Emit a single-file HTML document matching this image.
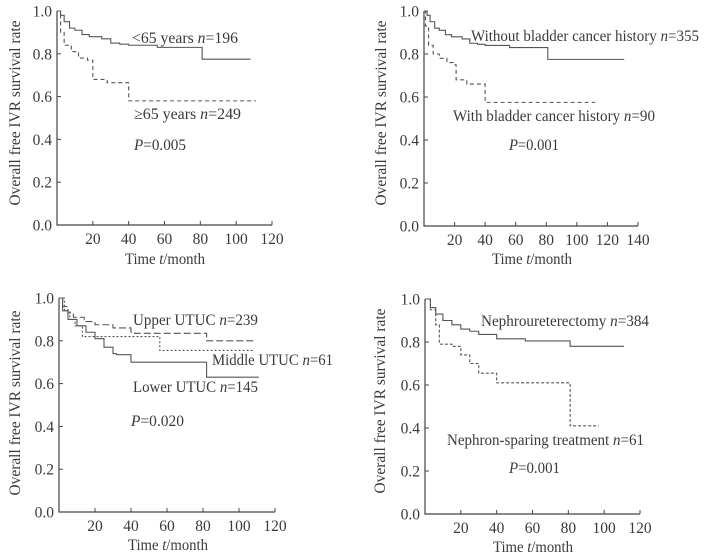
<!DOCTYPE html>
<html><head><meta charset="utf-8">
<style>
html,body{margin:0;padding:0;background:#fff;}
svg{display:block;}
text{font-family:"Liberation Serif",serif;fill:#3a3a3a;}
</style></head>
<body>
<svg id="chart" width="704" height="556" viewBox="0 0 704 556" xmlns="http://www.w3.org/2000/svg"></svg>
<script>
// Panel A data
const aYoungT=[0,2,4,7,10,14,18,25,30,35,40,56,81,108];
const aYoungS=[1,0.98,0.95,0.92,0.91,0.89,0.88,0.87,0.85,0.845,0.84,0.83,0.775,0.775];
const aOldT=[0,2,4,8,12,17,20,28,40,111];
const aOldS=[1,0.9,0.84,0.81,0.78,0.77,0.68,0.665,0.58,0.58];
// Panel B data
const bWithoutT=[0,2,4,7,10,14,18,25,30,35,40,56,81,131];
const bWithoutS=[1,0.98,0.95,0.92,0.91,0.89,0.88,0.87,0.85,0.845,0.84,0.83,0.775,0.775];
const bWithT=[0,1,3,6,10,15,19,21,28,40,112];
const bWithS=[1,0.93,0.84,0.8,0.78,0.76,0.75,0.68,0.66,0.575,0.575];
// Panel C data
const cUpperT=[0,2,5,8,14,20,30,40,42,82,108];
const cUpperS=[1,0.96,0.93,0.91,0.89,0.875,0.86,0.84,0.835,0.8,0.8];
const cMiddleT=[0,3,6,9,13,56,108];
const cMiddleS=[1,0.94,0.9,0.87,0.82,0.755,0.755];
const cLowerT=[0,2,5,10,15,20,25,30,32,40,82,111];
const cLowerS=[1,0.94,0.9,0.87,0.84,0.81,0.77,0.74,0.735,0.7,0.63,0.63];
// Panel D data
const dNephT=[0,3,6,10,15,20,25,30,40,56,81,111];
const dNephS=[1,0.96,0.93,0.9,0.88,0.86,0.85,0.835,0.815,0.805,0.78,0.78];
const dSparT=[0,3,6,8,15,20,25,30,40,81,97];
const dSparS=[1,0.95,0.88,0.79,0.78,0.74,0.7,0.655,0.61,0.41,0.41];
const yTicks=[0,0.2,0.4,0.6,0.8,1.0];
const yTickLabels=["0.0","0.2","0.4","0.6","0.8","1.0"];
const xTicks120=[20,40,60,80,100,120];
const xTicks140=[20,40,60,80,100,120,140];

const NS="http://www.w3.org/2000/svg";
const svg=document.getElementById('chart');
const FS=15.5;
function mk(tag,attrs,parent){const e=document.createElementNS(NS,tag);for(const k in attrs)e.setAttribute(k,attrs[k]);(parent||svg).appendChild(e);return e;}

function panel(p){
  const g=mk('g',{});
  
  
  const xs=v=>p.x0+(v/p.xmax)*(p.x1-p.x0);
  const ys=v=>p.y0-(v)*(p.y0-p.y1);
  const ax=mk('path',{d:`M${p.x0},${p.y1} V${p.y0} H${p.x1}`,stroke:'#444','stroke-width':1.2,fill:'none'},g);
  
  
  yTicks.forEach((v,i)=>{
    mk('line',{x1:p.x0,x2:p.x0+4,y1:ys(v),y2:ys(v),stroke:'#444'},g);
    const t=mk('text',{x:p.x0-5,y:ys(v)+5.5,'text-anchor':'end','font-size':FS},g);
    t.textContent=yTickLabels[i];
    
    
  });
  p.xt.forEach(v=>{
    mk('line',{x1:xs(v),x2:xs(v),y1:p.y0,y2:p.y0-4,stroke:'#444'},g);
    const t=mk('text',{x:xs(v),y:p.y0+19,'text-anchor':'middle','font-size':FS},g);
    t.textContent=String(v);
    
    
  });
  const xt=mk('text',{x:p.xtx,y:p.xty,'text-anchor':'middle','font-size':FS,textLength:80,lengthAdjust:'spacingAndGlyphs'},g);
  xt.innerHTML='Time <tspan font-style="italic">t</tspan>/month';
  
  
  const yt=mk('text',{x:0,y:0,'text-anchor':'middle','font-size':FS,textLength:185,lengthAdjust:'spacingAndGlyphs',transform:`translate(${p.ytx},${p.yty}) rotate(-90)`},g);
  yt.textContent='Overall free IVR survival rate';
  
  
  p.series.forEach(s=>{
    let d=`M${xs(s.t[0])},${ys(s.s[0])}`;
    for(let i=1;i<s.t.length;i++){d+=` H${xs(s.t[i])} V${ys(s.s[i])}`;}
    const l=mk('path',{d:d,fill:'none',stroke:'#555','stroke-width':1.1},g);
    if(s.dash)l.setAttribute('stroke-dasharray',s.dash);
    
    
  });
  p.labels.forEach(L=>{
    const t=mk('text',{x:L.x,y:L.y,'font-size':FS,textLength:L.w,lengthAdjust:'spacingAndGlyphs'},g);
    t.innerHTML=L.html;
    
    
  });
}
const n='<tspan font-style="italic">n</tspan>';
const P='<tspan font-style="italic">P</tspan>';
panel({name:'panel-age',x0:57,x1:272,y0:225,y1:11,xmax:120,xt:xTicks120,xtx:165,xty:264,ytx:20,yty:113,
  series:[{name:'line-under-65',t:aYoungT,s:aYoungS},{name:'line-over-65',t:aOldT,s:aOldS,dash:'4,3'}],
  labels:[{name:'label-under-65',x:132,y:43,w:106,html:'&lt;65 years '+n+'=196'},
          {name:'label-over-65',x:134,y:119,w:107,html:'≥65 years '+n+'=249'},
          {name:'p-value',x:134,y:150,w:52,html:P+'=0.005'}]});
panel({name:'panel-bladder',x0:424,x1:638,y0:226,y1:11,xmax:140,xt:xTicks140,xtx:532,xty:264,ytx:386,yty:113,
  series:[{name:'line-without-history',t:bWithoutT,s:bWithoutS},{name:'line-with-history',t:bWithT,s:bWithS,dash:'4,3'}],
  labels:[{name:'label-without-history',x:471,y:41,w:228,html:'Without bladder cancer history '+n+'=355'},
          {name:'label-with-history',x:453,y:121,w:202,html:'With bladder cancer history '+n+'=90'},
          {name:'p-value',x:509,y:150,w:50,html:P+'=0.001'}]});
panel({name:'panel-location',x0:59,x1:275,y0:512,y1:298,xmax:120,xt:xTicks120,xtx:168,xty:550,ytx:20,yty:403,
  series:[{name:'line-upper',t:cUpperT,s:cUpperS,dash:'7,3'},{name:'line-middle',t:cMiddleT,s:cMiddleS,dash:'2,2'},{name:'line-lower',t:cLowerT,s:cLowerS}],
  labels:[{name:'label-upper',x:133,y:325,w:125,html:'Upper UTUC '+n+'=239'},
          {name:'label-middle',x:212,y:365,w:121,html:'Middle UTUC '+n+'=61'},
          {name:'label-lower',x:133,y:392,w:125,html:'Lower UTUC '+n+'=145'},
          {name:'p-value',x:131,y:426,w:53,html:P+'=0.020'}]});
panel({name:'panel-treatment',x0:425,x1:640,y0:514,y1:299,xmax:120,xt:xTicks120,xtx:533,xty:552,ytx:385,yty:401,
  series:[{name:'line-nephroureterectomy',t:dNephT,s:dNephS},{name:'line-nephron-sparing',t:dSparT,s:dSparS,dash:'3,2'}],
  labels:[{name:'label-nephroureterectomy',x:481,y:326,w:168,html:'Nephroureterectomy '+n+'=384'},
          {name:'label-nephron-sparing',x:447,y:445,w:197,html:'Nephron-sparing treatment '+n+'=61'},
          {name:'p-value',x:509,y:473,w:51,html:P+'=0.001'}]});
</script>
</body></html>
